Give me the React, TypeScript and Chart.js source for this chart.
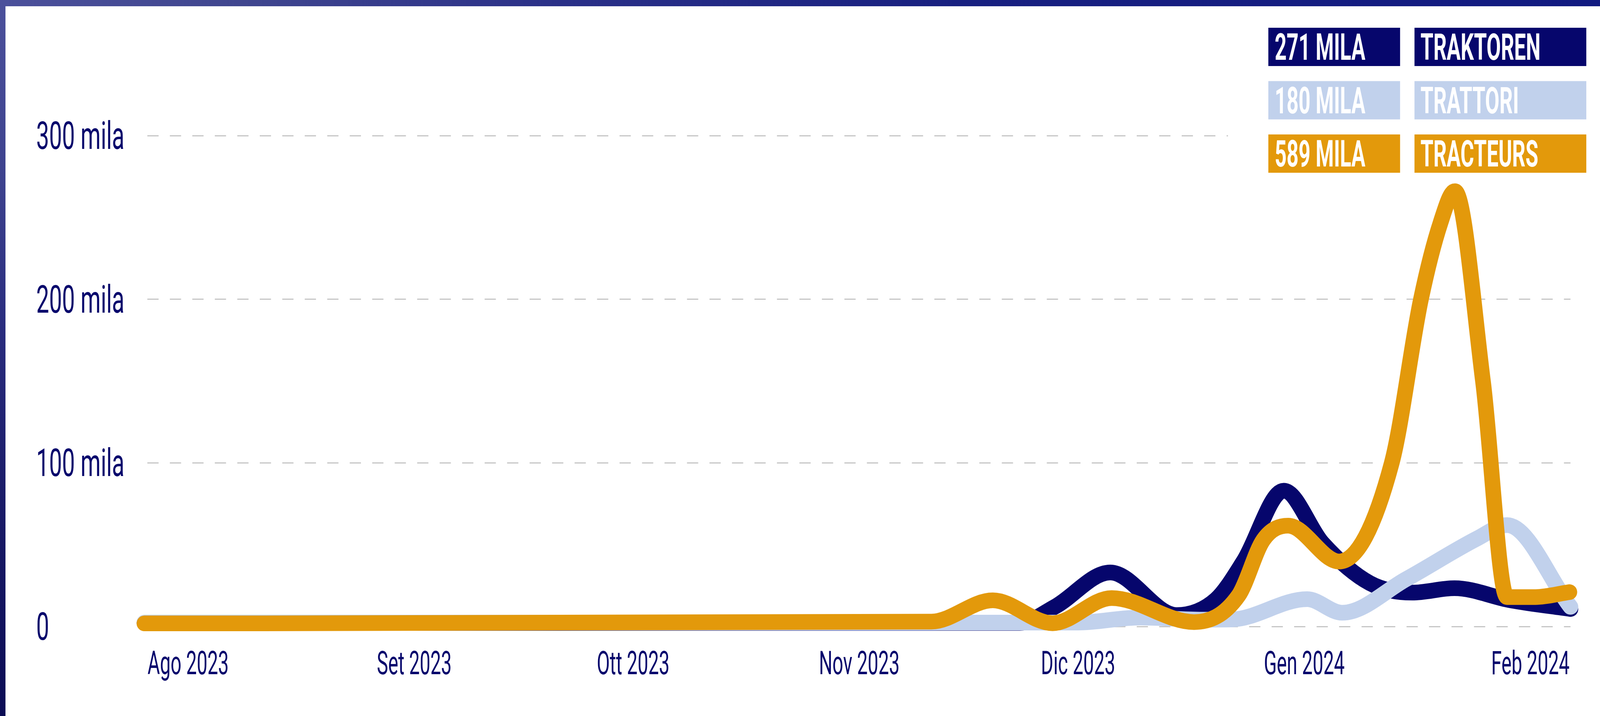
import React, { useEffect, useRef } from "react";
import { Chart, registerables } from "chart.js";

Chart.register(...registerables);

// x values are days counted from 1 Aug 2023
const monthTickDays = [0, 31, 61, 92, 122, 153, 184];
const monthTickLabels = ["Ago 2023", "Set 2023", "Ott 2023", "Nov 2023", "Dic 2023", "Gen 2024", "Feb 2024"];
const yTickValues = [0, 100000, 200000, 300000];
const yTickLabels = ["0", "100 mila", "200 mila", "300 mila"];

const seriesNames = ["TRAKTOREN", "TRATTORI", "TRACTEURS"];
const seriesTotals = ["271 MILA", "180 MILA", "589 MILA"];

const traktorenDays = [-6, 114, 118.8, 126.4, 135.5, 140.9, 144.7, 150.2, 155.5, 162, 167.8, 173.6, 181.3, 189.5];
const traktorenValues = [2200, 2200, 12000, 33000, 7000, 16500, 40000, 83000, 51000, 26500, 20700, 23400, 16000, 10700];

const trattoriDays = [-6, 122, 130.5, 139, 143, 153.4, 158.2, 167, 176.8, 180.8, 189.5];
const trattoriValues = [2400, 2400, 5500, 4200, 4300, 16700, 8400, 29000, 54000, 62000, 12000];

const tracteursDays = [-6, 101.9, 110.3, 118.5, 126.6, 137.9, 144, 147.4, 150.8, 157.8, 165, 169, 171.7, 173.65, 177.5, 180.8, 184.7, 189.35];
const tracteursValues = [1900, 3000, 16000, 2000, 17400, 2700, 19000, 53000, 61600, 39700, 100000, 200000, 247000, 266000, 150000, 18000, 18000, 21000];

const NAVY = "rgb(6,6,108)";
const LIGHT = "rgb(193,209,236)";
const ORANGE = "rgb(227,153,11)";
const seriesColors = [NAVY, LIGHT, ORANGE];

const REF_W = 4554;
const REF_H = 1832;

function drawCondensed(ctx: CanvasRenderingContext2D, text: string, x: number, y: number, sx: number, align: CanvasTextAlign) {
  ctx.save();
  ctx.translate(x, y);
  ctx.scale(sx, 1);
  ctx.textAlign = align;
  ctx.fillText(text, 0, 0);
  ctx.restore();
}

function makeLabelPlugin(k: number, w: number) {
  return {
    id: "customLabels",
    afterDraw(chart: any) {
      const ctx: CanvasRenderingContext2D = chart.ctx;
      const xs = chart.scales.x;
      const ys = chart.scales.y;
      ctx.save();
      ctx.textBaseline = "alphabetic";
      ctx.fillStyle = NAVY;
      ctx.font = "400 98px Roboto";
      yTickValues.forEach((v, i) => {
        const y = ys.getPixelForValue(v);
        drawCondensed(ctx, yTickLabels[i], 103 * k, y + 34, 0.667 * k, "left");
      });
      ctx.font = "400 83px Roboto";
      monthTickDays.forEach((d, i) => {
        const x = xs.getPixelForValue(d);
        drawCondensed(ctx, monthTickLabels[i], x, xs.top + 122, 0.65 * k, "center");
      });

      // legend
      ctx.fillStyle = "#ffffff";
      ctx.fillRect(3495 * k, 300, w - 3495 * k, 100);
      const col1X = 3610 * k, col1W = 375 * k, col2X = 4026 * k, col2W = 489 * k;
      const rowTop = 71, rowPitch = 136.5, rowH = 98;
      ctx.font = "700 94px Roboto";
      seriesNames.forEach((name, i) => {
        const top = rowTop + i * rowPitch;
        ctx.fillStyle = seriesColors[i];
        ctx.fillRect(col1X, top, col1W, rowH);
        ctx.fillRect(col2X, top, col2W, rowH);
        ctx.fillStyle = "#ffffff";
        drawCondensed(ctx, seriesTotals[i], col1X + 18 * k, top + 82, 0.63 * k, "left");
        drawCondensed(ctx, name, col2X + 17 * k, top + 82, 0.63 * k, "left");
      });
      ctx.restore();
    },
  };
}

function toPoints(days: number[], values: number[]) {
  return days.map((d, i) => ({ x: d, y: values[i] }));
}

export default function App() {
  const canvasRef = useRef<HTMLCanvasElement | null>(null);
  const vw = typeof window !== "undefined" && window.innerWidth ? window.innerWidth : REF_W;
  const vh = typeof window !== "undefined" && window.innerHeight ? window.innerHeight : REF_H;
  const k = vw / REF_W;

  useEffect(() => {
    if (!canvasRef.current) return;
    const lineStyle = {
      borderWidth: 40,
      pointRadius: 0,
      pointHoverRadius: 0,
      cubicInterpolationMode: "monotone" as const,
      borderCapStyle: "round" as const,
      borderJoinStyle: "round" as const,
      fill: false,
      clip: false as const,
    };
    const chart = new Chart(canvasRef.current, {
      type: "line",
      data: {
        datasets: [
          { ...lineStyle, label: seriesNames[0], data: toPoints(traktorenDays, traktorenValues), borderColor: NAVY, backgroundColor: NAVY, order: 3 },
          { ...lineStyle, label: seriesNames[1], data: toPoints(trattoriDays, trattoriValues), borderColor: LIGHT, backgroundColor: LIGHT, order: 2 },
          { ...lineStyle, label: seriesNames[2], data: toPoints(tracteursDays, tracteursValues), borderColor: ORANGE, backgroundColor: ORANGE, order: 1 },
        ],
      },
      options: {
        animation: false,
        responsive: false,
        maintainAspectRatio: false,
        devicePixelRatio: 1,
        events: [],
        layout: { padding: { top: 347, right: 84 * k, bottom: 0, left: 0 } },
        plugins: { legend: { display: false }, tooltip: { enabled: false } },
        scales: {
          x: {
            type: "linear",
            min: -6,
            max: 189.5,
            grid: { display: false },
            border: { display: false },
            ticks: { display: false },
            afterBuildTicks: (scale: any) => {
              scale.ticks = monthTickDays.map((v) => ({ value: v }));
            },
            afterFit: (scale: any) => {
              scale.height = 229;
            },
          },
          y: {
            type: "linear",
            min: 0,
            max: 300000,
            grid: { color: "#c6c6c6", lineWidth: 3, drawTicks: false },
            border: { display: false, dash: [32 * k, 32 * k], dashOffset: 56 * k },
            ticks: { display: false },
            afterBuildTicks: (scale: any) => {
              scale.ticks = yTickValues.map((v) => ({ value: v }));
            },
            afterFit: (scale: any) => {
              scale.width = 411 * k;
            },
          },
        },
      },
      plugins: [makeLabelPlugin(k, vw)],
    });
    return () => chart.destroy();
  }, []);

  return (
    <div style={{ position: "fixed", left: 0, top: 0, width: vw, height: vh, overflow: "hidden", background: "#ffffff" }}>
      <div
        style={{
          position: "absolute",
          left: 0,
          top: 0,
          width: vw,
          height: 16,
          background: "linear-gradient(90deg, #4b509b 0%, #40468f 15%, #2a3088 35%, #182080 60%, #111a80 100%)",
        }}
      />
      <div
        style={{
          position: "absolute",
          left: 0,
          top: 0,
          width: Math.round(16 * k),
          height: vh,
          background: "linear-gradient(180deg, #4b509b 0%, #3d428e 25%, #2a2d7f 45%, #1a1b68 70%, #0b0c55 100%)",
        }}
      />
      <canvas
        ref={canvasRef}
        width={vw}
        height={REF_H}
        style={{ position: "absolute", left: 0, top: 0, width: vw, height: REF_H }}
      />
    </div>
  );
}
